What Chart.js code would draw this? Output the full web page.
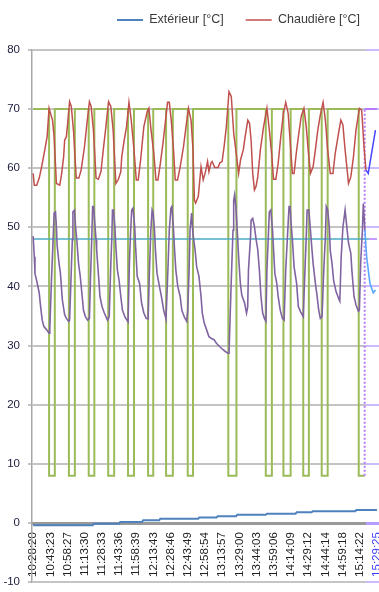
<!DOCTYPE html>
<html><head><meta charset="utf-8">
<script src="https://cdn.jsdelivr.net/npm/chart.js@4/dist/chart.umd.min.js"></script>
<style>
html,body{margin:0;padding:0;background:#fff;overflow:hidden;width:379px;height:592px;}
#wrap{position:relative;width:400px;height:592px;}
</style></head><body>
<div id="wrap"><canvas id="c" width="400" height="592"></canvas></div>
<script>
// ---- tick labels (one every 15 samples) ----
const TIME_LABELS = ['10:28:20','10:43:23','10:58:27','11:13:30','11:28:33','11:43:36','11:58:39','12:13:43','12:28:46','12:43:49','12:58:54','13:13:57','13:29:00','13:44:03','13:59:06','14:14:09','14:29:12','14:44:14','14:59:18','15:14:22','15:29:25'];
const LABEL_STEP = 15;            // samples between two labels
const Y_TICKS = [-10, 80, 10];    // min, max, step

// ---- series: x = sample index (≈ minutes after 10:28:20), y = °C ----
const EXT_X = [0, 52, 53, 75, 76, 95, 96, 110, 111, 144, 145, 160, 161, 177, 178, 203, 204, 229, 230, 243, 244, 281, 282, 300];
const EXT_Y = [-0.35, -0.35, -0.1, -0.1, 0.2, 0.2, 0.5, 0.5, 0.75, 0.75, 0.95, 0.95, 1.15, 1.15, 1.4, 1.4, 1.6, 1.6, 1.85, 1.85, 2.0, 2.0, 2.2, 2.2];

const CHAUD_X = [0, 1.0, 3.1, 5.3, 7.4, 10.2, 12.2, 13.9, 16.9, 18.3, 20.3, 23.2, 24.7, 26.6, 27.5, 29.0, 30.4, 31.8, 33.3, 35.3, 37.6, 39.9, 41.9, 44.8, 46.8, 49.1, 50.6, 52.6, 54.9, 56.9, 59.2, 61.2, 63.5, 65.8, 67.8, 69.8, 72.2, 74.4, 76.5, 77.3, 79.3, 81.5, 83.6, 85.6, 88.0, 90.0, 91.7, 93.8, 96.6, 99.5, 101.0, 102.9, 105.3, 107.2, 108.9, 111.0, 113.3, 115.4, 117.3, 118.8, 120.5, 122.5, 124.0, 126.0, 128.3, 131.2, 133.2, 135.5, 137.8, 139.5, 140.7, 141.8, 144.1, 146.5, 148.4, 150.4, 152.2, 153.4, 155.1, 156.2, 158.5, 161.4, 162.9, 164.9, 166.6, 168.6, 170.9, 172.9, 175.0, 177.2, 179.3, 181.0, 183.4, 185.0, 187.3, 188.8, 190.2, 191.6, 193.1, 194.5, 196.0, 198.3, 201.1, 204.0, 206.1, 208.1, 209.8, 211.8, 213.8, 216.1, 218.4, 220.4, 222.5, 224.2, 226.2, 227.7, 229.6, 232.0, 234.0, 236.3, 238.3, 240.0, 242.0, 244.3, 246.3, 248.4, 250.6, 253.0, 255.0, 257.0, 259.3, 261.6, 263.6, 266.5, 268.5, 270.3, 272.2, 275.2, 277.2, 279.5, 281.7, 284.7, 286.7, 288.7, 290.4, 292.4, 298.7];
const CHAUD_Y = [59.1, 57.1, 57.1, 58.3, 60.2, 63.1, 65.3, 70.1, 68.1, 65.3, 57.4, 57.1, 58.8, 61.9, 64.7, 65.3, 68.1, 71.2, 70.4, 66.1, 58.3, 58.3, 59.7, 63.6, 67.3, 71.2, 70.4, 66.4, 58.3, 58.1, 59.4, 63.1, 67.0, 71.2, 70.4, 66.4, 57.4, 58.1, 59.4, 61.9, 64.5, 67.0, 71.1, 68.1, 63.1, 58.0, 58.0, 61.4, 67.0, 69.5, 70.1, 66.4, 62.5, 58.0, 58.0, 60.8, 64.2, 67.8, 71.1, 71.1, 68.1, 63.1, 58.0, 58.0, 60.2, 63.6, 66.7, 70.1, 68.1, 63.1, 54.6, 54.1, 55.2, 60.2, 58.0, 59.4, 61.1, 59.4, 60.8, 61.1, 60.1, 60.1, 60.9, 61.1, 63.6, 67.0, 72.9, 72.1, 65.9, 62.5, 59.1, 61.4, 63.1, 65.3, 68.1, 67.6, 64.7, 59.1, 56.3, 56.9, 58.5, 63.1, 67.0, 70.1, 66.4, 62.5, 58.1, 58.1, 60.8, 65.3, 69.3, 71.1, 69.3, 64.7, 59.1, 59.1, 62.5, 66.1, 68.8, 70.1, 67.0, 63.1, 59.1, 60.2, 63.1, 66.4, 69.0, 71.1, 68.1, 63.1, 59.1, 59.1, 62.5, 65.9, 68.1, 67.3, 63.1, 57.4, 58.5, 61.9, 66.4, 70.1, 69.8, 63.6, 59.7, 59.1, 66.4];

const RETOUR_X = [0, 1.0, 1.6, 3.6, 5.3, 6.5, 7.9, 9.4, 11.7, 13.9, 14.5, 16.0, 17.4, 18.3, 19.5, 20.3, 20.9, 22.6, 23.8, 25.5, 27.5, 29.0, 31.0, 31.8, 33.3, 34.2, 34.7, 36.1, 37.0, 38.1, 39.6, 41.1, 42.8, 43.9, 45.6, 47.6, 49.1, 50.0, 51.1, 51.9, 52.8, 54.0, 54.9, 55.4, 57.1, 58.3, 60.1, 62.1, 64.9, 66.4, 67.8, 68.7, 69.2, 70.1, 71.3, 72.2, 73.5, 75.0, 76.5, 77.9, 80.2, 82.8, 84.0, 85.1, 86.0, 87.1, 88.6, 89.4, 90.8, 92.9, 94.6, 96.6, 98.6, 100.3, 101.5, 102.7, 103.8, 104.7, 105.9, 106.7, 108.1, 110.2, 111.9, 113.9, 115.9, 117.6, 118.8, 120.2, 121.1, 122.5, 123.4, 124.5, 126.2, 128.3, 129.7, 132.0, 134.0, 134.9, 136.1, 136.9, 138.3, 139.2, 139.8, 141.3, 142.7, 144.7, 146.5, 147.6, 149.3, 151.3, 153.4, 155.6, 157.9, 159.9, 162.9, 165.7, 167.7, 170.0, 170.9, 172.9, 174.4, 175.0, 175.8, 176.9, 178.1, 179.3, 180.8, 182.1, 184.5, 186.2, 187.2, 187.9, 189.7, 190.2, 191.6, 193.1, 194.5, 196.0, 197.4, 198.8, 200.3, 201.8, 203.1, 204.0, 205.2, 206.1, 207.4, 208.9, 209.8, 210.9, 212.6, 213.8, 215.6, 217.5, 219.0, 220.4, 221.9, 223.3, 224.2, 225.3, 226.2, 227.7, 229.9, 231.4, 233.4, 235.7, 237.2, 238.3, 239.1, 240.6, 242.0, 242.6, 244.3, 246.3, 247.8, 249.2, 250.6, 252.1, 253.6, 255.0, 255.8, 257.0, 258.4, 259.3, 260.8, 262.2, 264.2, 266.5, 267.6, 268.8, 270.3, 272.2, 273.7, 275.2, 277.2, 278.1, 280.0, 281.7, 283.8, 284.7, 285.8, 287.3, 288.1, 289.5, 291.0, 293.9, 296.8, 298.7];
const RETOUR_Y = [48.5, 45.0, 42.2, 40.5, 38.9, 36.6, 34.3, 33.2, 32.7, 32.1, 32.7, 41.1, 47.9, 52.4, 52.6, 50.1, 47.0, 43.9, 42.2, 37.7, 35.2, 34.6, 34.1, 34.3, 42.8, 47.9, 52.6, 52.9, 50.1, 47.9, 43.9, 41.7, 38.3, 36.0, 34.9, 34.3, 34.6, 41.1, 47.9, 53.5, 53.5, 50.1, 47.9, 46.2, 41.7, 38.3, 36.6, 35.5, 34.3, 34.9, 43.9, 48.4, 52.9, 52.9, 50.1, 46.7, 42.8, 41.0, 38.3, 36.0, 34.8, 34.0, 43.9, 49.5, 52.9, 53.2, 50.1, 46.7, 41.7, 40.5, 37.2, 35.5, 34.6, 34.5, 42.8, 49.5, 52.9, 52.4, 49.5, 46.2, 42.2, 40.0, 38.3, 36.0, 34.5, 42.8, 49.5, 53.2, 53.5, 49.5, 46.2, 42.8, 40.0, 38.3, 36.0, 34.8, 34.1, 36.0, 42.8, 49.5, 52.4, 49.5, 48.4, 46.2, 43.3, 41.7, 38.3, 35.5, 33.8, 32.7, 31.5, 31.2, 31.0, 30.4, 29.8, 29.3, 29.0, 28.7, 28.7, 41.1, 49.5, 54.6, 55.5, 53.5, 49.5, 45.0, 40.5, 38.5, 37.2, 35.5, 36.5, 42.8, 48.4, 51.2, 51.5, 50.1, 48.0, 46.2, 42.8, 38.3, 35.5, 34.6, 34.1, 42.8, 48.4, 52.6, 52.9, 49.5, 46.2, 42.2, 40.5, 38.3, 36.0, 34.6, 34.3, 42.8, 48.4, 53.5, 53.5, 50.1, 47.9, 43.3, 40.5, 36.6, 35.7, 34.9, 42.8, 48.4, 52.9, 52.9, 49.5, 47.9, 43.9, 40.5, 38.3, 36.0, 34.6, 34.9, 42.8, 48.4, 53.5, 53.0, 50.1, 46.0, 43.9, 41.0, 39.2, 38.0, 37.5, 45.0, 50.0, 52.9, 50.1, 47.3, 45.6, 42.8, 38.3, 36.9, 35.8, 36.0, 43.9, 49.5, 54.0, 49.5, 45.0, 40.5, 38.9, 39.4];

const CONSIGNE_X = [0, 293, 300];
const CONSIGNE_Y = [48, 48, 48];

const BRULEUR_X = [0, 13.9, 13.9, 18.9, 18.9, 31.2, 31.2, 36.4, 36.4, 48.5, 48.5, 53.4, 53.4, 65.5, 65.5, 70.7, 70.7, 82.8, 82.8, 88.0, 88.0, 100.3, 100.3, 104.8, 104.8, 116.0, 116.0, 121.9, 121.9, 134.9, 134.9, 139.5, 139.5, 170.3, 170.3, 177.4, 177.4, 203.0, 203.0, 208.3, 208.3, 218.4, 218.4, 224.7, 224.7, 235.7, 235.7, 240.6, 240.6, 251.8, 251.8, 257.0, 257.0, 284.1, 284.1, 289.3, 289.3, 300];
const BRULEUR_Y = [70, 70, 8, 8, 70, 70, 8, 8, 70, 70, 8, 8, 70, 70, 8, 8, 70, 70, 8, 8, 70, 70, 8, 8, 70, 70, 8, 8, 70, 70, 8, 8, 70, 70, 8, 8, 70, 70, 8, 8, 70, 70, 8, 8, 70, 70, 8, 8, 70, 70, 8, 8, 70, 70, 8, 8, 70, 70];

const LEGEND_NAMES = ['Extérieur [°C]', 'Chaudière [°C]'];
const HILITE_FROM = 289;   // start of the highlighted (selected) range, sample index

// ---- styling ----
const FONT = "'Liberation Sans', Arial, sans-serif";
const C = { ext: '#4f81bd', chaud: '#c0504d', ret: '#8064a2', cons: '#4bacc6', brul: '#9bbb59',
            hExt: '#8fb6ff', hChaud: '#4646ff', hRet: '#5aa6ff', hLav: '#b57cff', grid: '#c4c4c4', hGrid: '#cdbbff' };
const pts = (xs, ys) => xs.map((x, i) => ({ x, y: ys[i] }));
const segCol = (base, hi, from) => c => (c.p0.parsed.x >= from - 1e-6 ? hi : base);

function splitGrad(chart, c1, c2) {
  const xs = chart.scales && chart.scales.x;
  if (!xs || !isFinite(xs.getPixelForValue(HILITE_FROM))) return c1;
  const px = xs.getPixelForValue(HILITE_FROM + 1.5);
  const f = Math.min(Math.max(px / chart.width, 0), 1);
  const g = chart.ctx.createLinearGradient(0, 0, chart.width, 0);
  g.addColorStop(0, c1); g.addColorStop(f, c1); g.addColorStop(f, c2); g.addColorStop(1, c2);
  return g;
}

const legendShift = {
  id: 'legendShift',
  afterLayout(chart) {
    const lg = chart.legend;
    if (!lg) return;
    lg.left += 95; lg.right += 95;
    lg.top -= 13.45; lg.bottom -= 13.45;
  }
};

new Chart(document.getElementById('c'), {
  type: 'line',
  data: {
    datasets: [
      { label: LEGEND_NAMES[0], data: pts(EXT_X, EXT_Y), borderColor: C.ext, borderWidth: 2,
        segment: { borderColor: segCol(C.ext, C.hExt, HILITE_FROM) } },
      { label: LEGEND_NAMES[1], data: pts(CHAUD_X, CHAUD_Y), borderColor: C.chaud, borderWidth: 1.5,
        segment: { borderColor: segCol(C.chaud, C.hChaud, HILITE_FROM) } },
      { label: '', data: pts(RETOUR_X, RETOUR_Y), borderColor: C.ret, borderWidth: 1.6,
        segment: { borderColor: segCol(C.ret, C.hRet, HILITE_FROM) } },
      { label: '', data: pts(CONSIGNE_X, CONSIGNE_Y), borderColor: C.cons, borderWidth: 1.6,
        segment: { borderColor: segCol(C.cons, C.hLav, 293) } },
      { label: '', data: pts(BRULEUR_X, BRULEUR_Y), borderColor: C.brul, borderWidth: 2,
        segment: { borderColor: segCol(C.brul, C.hLav, HILITE_FROM),
                   borderDash: c => (c.p0.parsed.x >= HILITE_FROM && c.p0.parsed.x === c.p1.parsed.x ? [2, 2] : undefined) } }
    ]
  },
  options: {
    responsive: false,
    animation: false,
    events: [],
    layout: { padding: { top: 5.2, right: 8, bottom: 9.7, left: 0 } },
    elements: { point: { radius: 0 }, line: { tension: 0, borderCapStyle: 'butt' } },
    plugins: {
      tooltip: { enabled: false },
      legend: {
        position: 'top', align: 'start',
        labels: {
          filter: it => it.datasetIndex < 2,
          usePointStyle: true, pointStyle: 'line', pointStyleWidth: 26,
          padding: 22, color: '#3a3a3a',
          font: { family: FONT, size: 12.5 }
        }
      }
    },
    scales: {
      x: {
        type: 'linear', position: { y: 0 }, min: -1, max: 310, bounds: 'data',
        afterBuildTicks: s => { s.ticks = TIME_LABELS.map((_, i) => ({ value: i * LABEL_STEP })); },
        grid: { display: false, drawTicks: false },
        border: { display: true, width: 3, dash: [5, 2], color: c => splitGrad(c.chart, '#9a9a9a', '#b79cff') },
        ticks: {
          autoSkip: false, minRotation: 90, maxRotation: 90, padding: 9,
          font: { family: FONT, size: 11.5 },
          color: c => (c.tick && c.tick.value === (TIME_LABELS.length - 1) * LABEL_STEP ? '#3a3aff' : '#222222'),
          callback: v => { const i = Math.round(v / LABEL_STEP); return (Math.abs(v - i * LABEL_STEP) < 1e-6 && TIME_LABELS[i]) || ''; }
        }
      },
      y: {
        min: Y_TICKS[0], max: Y_TICKS[1],
        afterFit: s => { s.width = 32; s.paddingTop = 0; s.paddingBottom = 0; },
        ticks: { stepSize: Y_TICKS[2], padding: 8, color: '#1c1c3c', font: { family: FONT, size: 11.5 } },
        grid: { color: c => splitGrad(c.chart, C.grid, C.hGrid), lineWidth: 2, tickLength: 4, drawTicks: true },
        border: { display: true, color: '#a8a8a8', width: 1.5 }
      }
    }
  },
  plugins: [legendShift]
});
</script>
</body></html>
